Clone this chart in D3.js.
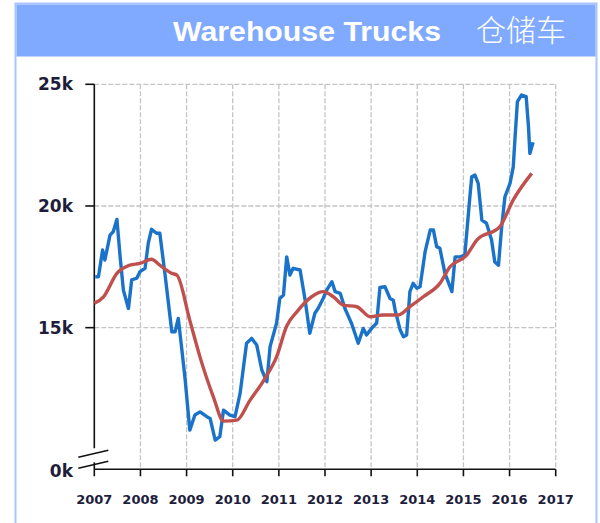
<!DOCTYPE html>
<html>
<head>
<meta charset="utf-8">
<script src="https://cdn.jsdelivr.net/npm/d3@7"></script>
<style>
	body { margin: 0; background: #fff; }
	svg { display: block; }
</style>
</head>
<body>
<svg></svg>
<script>

	var width = 600,
		height = 523;

	// series (decimal year, units)
	var salesYears = [2007.02, 2007.09, 2007.18, 2007.23, 2007.34, 2007.41, 2007.49, 2007.56, 2007.63, 2007.74,
		2007.81, 2007.92, 2007.99, 2008.10, 2008.17, 2008.24, 2008.35, 2008.42, 2008.53, 2008.68,
		2008.75, 2008.82, 2008.89, 2008.97, 2009.07, 2009.18, 2009.29, 2009.44, 2009.51, 2009.62,
		2009.72, 2009.80, 2009.94, 2010.05, 2010.16, 2010.30, 2010.41, 2010.52, 2010.63, 2010.74,
		2010.81, 2010.95, 2011.02, 2011.10, 2011.17, 2011.24, 2011.31, 2011.46, 2011.57, 2011.67,
		2011.78, 2011.85, 2011.96, 2012.04, 2012.15, 2012.22, 2012.33, 2012.43, 2012.58, 2012.72,
		2012.83, 2012.90, 2013.01, 2013.12, 2013.19, 2013.30, 2013.41, 2013.48, 2013.52, 2013.63,
		2013.70, 2013.77, 2013.84, 2013.91, 2013.99, 2014.06, 2014.17, 2014.28, 2014.35, 2014.42,
		2014.49, 2014.60, 2014.75, 2014.82, 2014.93, 2015.03, 2015.14, 2015.18, 2015.25, 2015.32,
		2015.40, 2015.50, 2015.61, 2015.68, 2015.76, 2015.83, 2015.90, 2016.01, 2016.08, 2016.12,
		2016.17, 2016.26, 2016.36, 2016.41, 2016.44, 2016.51];
	var salesValues = [17090, 17090, 18190, 17780, 18800, 18940, 19450, 17910, 16550, 15790,
		16960, 17030, 17300, 17440, 18470, 19040, 18880, 18880, 17230, 14830,
		14830, 15380, 14220, 12850, 10790, 11410, 11540, 11340, 11270, 10380,
		10520, 11610, 11410, 11340, 12300, 14360, 14560, 14290, 13260, 12780,
		14220, 15180, 16200, 16340, 17910, 17160, 17440, 17370, 16130, 14770,
		15590, 15790, 16200, 16550, 16890, 16480, 16410, 15800, 15150, 14360,
		14970, 14700, 14970, 15190, 16650, 16680, 16200, 16130, 15720, 14900,
		14630, 14700, 16480, 16820, 16620, 16680, 18120, 19010, 19010, 18330,
		18260, 17230, 16480, 17910, 17910, 17980, 20380, 21200, 21270, 20930,
		19420, 19290, 18600, 17700, 17570, 19150, 20380, 20930, 21610, 22850,
		24290, 24560, 24490, 23260, 22160, 22620];

	var trendYears = [2007.00, 2007.20, 2007.49, 2007.77, 2007.99, 2008.24, 2008.42, 2008.68, 2008.79, 2009.07,
		2009.29, 2009.58, 2009.80, 2010.09, 2010.37, 2010.70, 2010.95, 2011.17, 2011.39, 2011.71,
		2011.96, 2012.18, 2012.40, 2012.69, 2012.98, 2013.26, 2013.59, 2013.84, 2014.13, 2014.49,
		2014.71, 2015.07, 2015.29, 2015.79, 2016.08, 2016.48];
	var trendValues = [16000, 16270, 17230, 17570, 17640, 17810, 17570, 17230, 17160, 15300,
		13800, 12160, 11160, 11200, 12000, 12920, 13800, 15070, 15650, 16270,
		16480, 16270, 15930, 15860, 15450, 15520, 15520, 15860, 16270, 16820,
		17500, 17980, 18600, 19150, 20250, 21340];

	var yearTicks = [2007, 2008, 2009, 2010, 2011, 2012, 2013, 2014, 2015, 2016, 2017];
	var valueTicks = [15000, 20000, 25000];
	var valueLabels = ["15k", "20k", "25k"];
	var axisFloor = 9180, floorLabel = "0k";

	var sales = salesYears.map(function(y, i) { return {year: y, value: salesValues[i]}; });
	var trend = trendYears.map(function(y, i) { return {year: y, value: trendValues[i]}; });

	var x = d3.scaleLinear().domain([2007, 2017]).range([94.3, 555.7]);
	var y = d3.scaleLinear().domain([axisFloor, 25000]).range([469.3, 84.3]);

	var svg = d3.select("svg")
		.attr("width", width)
		.attr("height", height);

	// frame + title band
	svg.append("rect")
		.attr("x", 15.5).attr("y", 3.5)
		.attr("width", 581).attr("height", 540)
		.attr("fill", "#fff")
		.attr("stroke", "#a9c4ff")
		.attr("stroke-width", 2);
	svg.append("rect")
		.attr("x", 16.5).attr("y", 4.5)
		.attr("width", 579).attr("height", 52)
		.attr("fill", "#80aaff");

	svg.append("text")
		.attr("x", 307).attr("y", 41)
		.attr("text-anchor", "middle")
		.attr("font-family", "Liberation Sans, Arial, sans-serif")
		.attr("font-weight", "bold")
		.attr("font-size", 27)
		.attr("fill", "#fff")
		.attr("textLength", 268)
		.attr("lengthAdjust", "spacingAndGlyphs")
		.text("Warehouse Trucks");
	svg.append("text")
		.attr("x", 521).attr("y", 41)
		.attr("text-anchor", "middle")
		.attr("font-family", "Noto Sans CJK SC, sans-serif")
		.attr("font-weight", 300)
		.attr("font-size", 30)
		.attr("fill", "#fff")
		.text("仓储车");

	// grid
	var grid = svg.append("g")
		.attr("stroke", "#c4c4c4")
		.attr("stroke-width", 1.3)
		.attr("stroke-dasharray", "5,2");
	grid.selectAll(".vgrid").data(yearTicks.slice(1))
		.enter().append("line")
		.attr("class", "vgrid")
		.attr("x1", function(d) { return x(d); })
		.attr("x2", function(d) { return x(d); })
		.attr("y1", y(25000))
		.attr("y2", y(axisFloor));
	grid.selectAll(".hgrid").data(valueTicks)
		.enter().append("line")
		.attr("class", "hgrid")
		.attr("x1", x(2007))
		.attr("x2", x(2017))
		.attr("y1", function(d) { return y(d); })
		.attr("y2", function(d) { return y(d); });

	// axes
	var axisColor = "#111";
	var labelFont = "DejaVu Sans, Verdana, sans-serif";

	svg.append("line")
		.attr("x1", x(2007)).attr("x2", x(2007))
		.attr("y1", y(25000)).attr("y2", y(axisFloor) - 21)
		.attr("stroke", axisColor).attr("stroke-width", 1.6);
	svg.append("line")
		.attr("x1", x(2007)).attr("x2", x(2007))
		.attr("y1", y(axisFloor) - 7).attr("y2", y(axisFloor))
		.attr("stroke", axisColor).attr("stroke-width", 1.6);
	svg.append("line")
		.attr("x1", x(2007)).attr("x2", x(2017))
		.attr("y1", y(axisFloor)).attr("y2", y(axisFloor))
		.attr("stroke", axisColor).attr("stroke-width", 1.6);

	// axis break
	[-16, -5].forEach(function(off) {
		svg.append("line")
			.attr("x1", x(2007) - 16).attr("y1", y(axisFloor) + off + 4)
			.attr("x2", x(2007) + 14).attr("y2", y(axisFloor) + off - 3)
			.attr("stroke", axisColor).attr("stroke-width", 1.6);
	});

	svg.selectAll(".xtick").data(yearTicks)
		.enter().append("line")
		.attr("class", "xtick")
		.attr("x1", function(d) { return x(d); })
		.attr("x2", function(d) { return x(d); })
		.attr("y1", y(axisFloor))
		.attr("y2", y(axisFloor) + 7)
		.attr("stroke", axisColor).attr("stroke-width", 1.6);

	svg.selectAll(".xlabel").data(yearTicks)
		.enter().append("text")
		.attr("class", "xlabel")
		.attr("x", function(d) { return x(d); })
		.attr("y", 504)
		.attr("text-anchor", "middle")
		.attr("font-family", labelFont)
		.attr("font-weight", "bold")
		.attr("font-size", 13)
		.attr("fill", "#1e1e3c")
		.text(function(d) { return d; });

	svg.selectAll(".ytick").data(valueTicks)
		.enter().append("line")
		.attr("class", "ytick")
		.attr("x1", x(2007) - 9)
		.attr("x2", x(2007))
		.attr("y1", function(d) { return y(d); })
		.attr("y2", function(d) { return y(d); })
		.attr("stroke", axisColor).attr("stroke-width", 1.6);

	svg.selectAll(".ylabel").data(valueTicks)
		.enter().append("text")
		.attr("class", "ylabel")
		.attr("x", 73)
		.attr("y", function(d) { return y(d) + 6; })
		.attr("text-anchor", "end")
		.attr("font-family", labelFont)
		.attr("font-weight", "bold")
		.attr("font-size", 17)
		.attr("fill", "#1e1e3c")
		.text(function(d, i) { return valueLabels[i]; });
	svg.append("text")
		.attr("x", 73)
		.attr("y", y(axisFloor) + 8)
		.attr("text-anchor", "end")
		.attr("font-family", labelFont)
		.attr("font-weight", "bold")
		.attr("font-size", 17)
		.attr("fill", "#1e1e3c")
		.text(floorLabel);

	// lines
	var line = d3.line()
		.x(function(d) { return x(d.year); })
		.y(function(d) { return y(d.value); });

	svg.append("path")
		.datum(sales)
		.attr("fill", "none")
		.attr("stroke", "#1a73c9")
		.attr("stroke-width", 3.4)
		.attr("stroke-linejoin", "round")
		.attr("d", line);

	svg.append("path")
		.datum(trend)
		.attr("fill", "none")
		.attr("stroke", "#c0504d")
		.attr("stroke-width", 3.4)
		.attr("stroke-linejoin", "round")
		.attr("d", line.curve(d3.curveMonotoneX));

</script>
</body>
</html>
